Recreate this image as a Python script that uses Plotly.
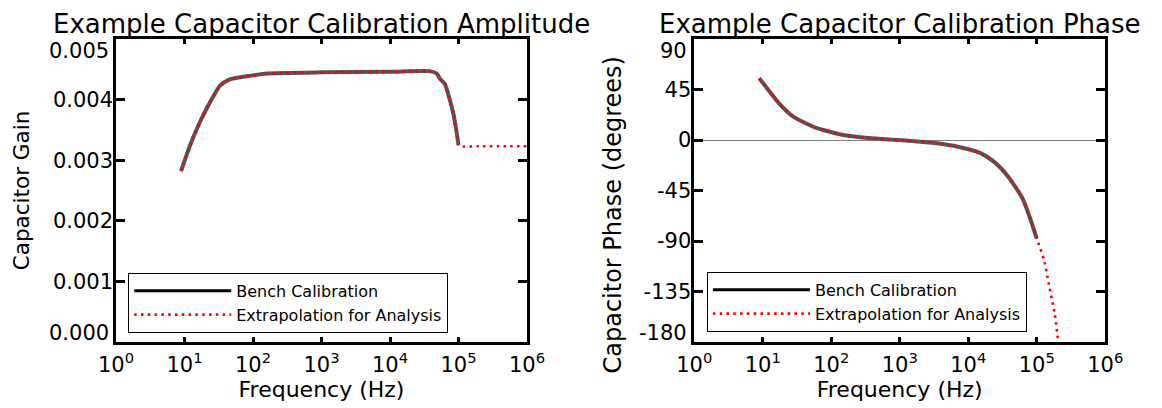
import plotly.graph_objects as go

# ---------------- data ----------------
amp_freq = [8.9, 12, 16.8, 21, 33, 45, 65, 100, 158, 1000, 1.0e4, 3.8e4, 4.8e4,
            5.4e4, 6.3e4, 7.5e4, 8.4e4, 9.3e4, 1.0e5]
amp_gain = [2.82e-3, 3.24e-3, 3.63e-3, 3.85e-3, 4.23e-3, 4.33e-3, 4.37e-3,
            4.40e-3, 4.43e-3, 4.45e-3, 4.46e-3, 4.47e-3, 4.43e-3, 4.34e-3,
            4.26e-3, 3.99e-3, 3.77e-3, 3.49e-3, 3.25e-3]
amp_ext_freq = amp_freq + [1.05e5, 2.0e5, 5.0e5, 1.0e6]
amp_ext_gain = amp_gain + [3.23e-3, 3.23e-3, 3.23e-3, 3.23e-3]

ph_freq = [8.9, 12.1, 17.3, 28.0, 57.6, 151, 395, 1318, 3459, 7100, 14620,
           23660, 38370, 62080, 78700, 1.0e5]
ph_deg = [55.0, 44.6, 32.7, 20.8, 11.3, 4.5, 1.5, -0.6, -2.9, -6.0, -11.3,
          -19.3, -32.7, -52.0, -68.4, -87.6]
ph_ext_freq = ph_freq + [1.28e5, 1.529e5, 1.832e5, 2.065e5]
ph_ext_deg = ph_deg + [-107.0, -130.7, -154.5, -180.0]

x_tickvals = [1, 10, 100, 1e3, 1e4, 1e5, 1e6]
x_ticktext = ["10<sup>0</sup>", "10<sup>1</sup>", "10<sup>2</sup>", "10<sup>3</sup>",
              "10<sup>4</sup>", "10<sup>5</sup>", "10<sup>6</sup>"]
amp_ticks = [0, 0.001, 0.002, 0.003, 0.004, 0.005]
amp_ticktext = ["0.000", "0.001", "0.002", "0.003", "0.004", "0.005"]
ph_ticks = [-180, -135, -90, -45, 0, 45, 90]
ph_ticktext = ["-180", "-135", "-90", "-45", "0", "45", "90"]

series_names = ["Bench Calibration", "Extrapolation for Analysis"]
titles = ["Example Capacitor Calibration Amplitude", "Example Capacitor Calibration Phase"]

# ---------------- figure ----------------
# page body has an 8px margin: figure is 1154x400 so it fills the 1162x408 window
OFF = 8
W, H = 1162 - OFF, 408 - OFF
FONT = "DejaVu Sans, Verdana, sans-serif"
BENCH = "#555555"
RED = "#ff0000"
DOT = "2.5px,4.3px"
TICKSIZE = 21


def sx(p):  # screen pixel -> paper x
    return (p - OFF) / W


def sy(p):  # screen pixel -> paper y
    return (H - (p - OFF)) / H


fig = go.Figure()

curve_line = dict(shape="spline", smoothing=0.6)
fig.add_trace(go.Scatter(x=amp_freq, y=amp_gain, mode="lines",
                         line=dict(color=BENCH, width=4, **curve_line), showlegend=False,
                         xaxis="x", yaxis="y"))
fig.add_trace(go.Scatter(x=amp_ext_freq, y=amp_ext_gain, mode="lines",
                         line=dict(color=RED, width=2.6, dash=DOT, **curve_line),
                         showlegend=False, xaxis="x", yaxis="y"))
fig.add_trace(go.Scatter(x=ph_freq, y=ph_deg, mode="lines",
                         line=dict(color=BENCH, width=4, **curve_line), showlegend=False,
                         xaxis="x2", yaxis="y2"))
fig.add_trace(go.Scatter(x=ph_ext_freq, y=ph_ext_deg, mode="lines",
                         line=dict(color=RED, width=2.6, dash=DOT, **curve_line),
                         showlegend=False, xaxis="x2", yaxis="y2"))

for lg, xa, ya in [("legend", "x", "y"), ("legend2", "x2", "y2")]:
    fig.add_trace(go.Scatter(x=[None], y=[None], mode="lines", name=series_names[0],
                             line=dict(color="black", width=3), legend=lg,
                             xaxis=xa, yaxis=ya))
    fig.add_trace(go.Scatter(x=[None], y=[None], mode="lines", name=series_names[1],
                             line=dict(color=RED, width=2.6, dash=DOT), legend=lg,
                             xaxis=xa, yaxis=ya))

TOP, BOT = 39, 342
L1, R1 = 116, 527
L2, R2 = 694.2, 1105.2
ydom = [sy(BOT), sy(TOP)]

axis_common = dict(showline=True, linecolor="black", linewidth=2.5, mirror="ticks",
                   ticks="inside", tickcolor="black", tickwidth=2.5, automargin=False,
                   showgrid=False, tickfont=dict(family=FONT, size=TICKSIZE, color="black"))

xcommon = dict(axis_common, type="log", range=[0, 6], tickvals=x_tickvals,
               ticktext=x_ticktext, ticklen=5, zeroline=False, ticklabelstandoff=2,
               title=dict(text="Frequency (Hz)", font=dict(family=FONT, size=22, color="black"),
                          standoff=6))

# end labels are drawn inset (as in the reference), interior labels on the axis
amp_inner = [t if 0 < i < len(amp_ticks) - 1 else "" for i, t in enumerate(amp_ticktext)]
ph_inner = [t if 0 < i < len(ph_ticks) - 1 else "" for i, t in enumerate(ph_ticktext)]

legend_common = dict(xanchor="left", yanchor="top", bgcolor="white", bordercolor="black",
                     borderwidth=1.2, font=dict(family=FONT, size=16, color="black"),
                     itemwidth=97, tracegroupgap=0)

fig.update_layout(
    width=W, height=H,
    margin=dict(l=0, r=0, t=0, b=0, autoexpand=False),
    paper_bgcolor="white", plot_bgcolor="white",
    font=dict(family=FONT, color="black"),
    xaxis=dict(xcommon, domain=[sx(L1), sx(R1)], anchor="y"),
    xaxis2=dict(xcommon, domain=[sx(L2), sx(R2)], anchor="y2"),
    yaxis=dict(axis_common, domain=ydom, anchor="x", range=[0, 0.005],
               tickvals=amp_ticks, ticktext=amp_inner, ticklen=9, zeroline=False,
               ticklabelstandoff=-4,
               title=dict(text="Capacitor Gain", font=dict(family=FONT, size=21.5, color="black"),
                          standoff=18)),
    yaxis2=dict(axis_common, domain=ydom, anchor="x2", range=[-180, 90],
                tickvals=ph_ticks, ticktext=ph_inner, ticklen=9, zeroline=True,
                ticklabelstandoff=-4,
                zerolinecolor="#808080", zerolinewidth=1.2),
    legend=dict(legend_common, x=sx(128), y=sy(272.7)),
    legend2=dict(legend_common, x=sx(706.7), y=sy(271.7)),
    showlegend=True,
)

# inset end-of-axis tick labels
for txt, xpix, ypix in [(amp_ticktext[-1], L1 - 5, 51), (amp_ticktext[0], L1 - 5, 333),
                        (ph_ticktext[-1], L2 - 5, 51), (ph_ticktext[0], L2 - 5, 333)]:
    fig.add_annotation(text=txt, xref="paper", yref="paper", x=sx(xpix), y=sy(ypix),
                       xanchor="right", yanchor="middle", showarrow=False,
                       font=dict(family=FONT, size=TICKSIZE, color="black"))

for t, xc in [(titles[0], (L1 + R1) / 2), (titles[1], (L2 + R2) / 2)]:
    fig.add_annotation(text=t, xref="paper", yref="paper", x=sx(xc), y=1.0,
                       xanchor="center", yanchor="top", showarrow=False, borderpad=0,
                       font=dict(family=FONT, size=26, color="black"))

fig.add_annotation(text="Capacitor Phase (degrees)", xref="paper", yref="paper",
                   x=sx(612.5), y=sy(215), xanchor="center", yanchor="middle",
                   textangle=-90, showarrow=False,
                   font=dict(family=FONT, size=24, color="black"))

fig.write_html("out.html")
